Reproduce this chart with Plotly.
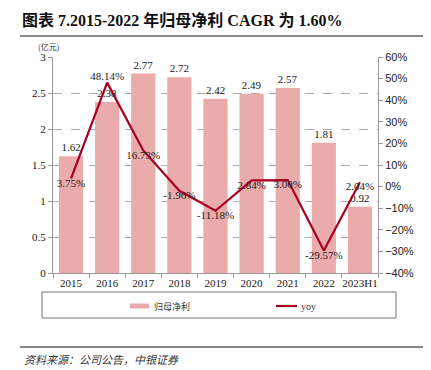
import plotly.graph_objects as go

categories = ["2015", "2016", "2017", "2018", "2019", "2020", "2021", "2022", "2023H1"]
profit = [1.62, 2.38, 2.77, 2.72, 2.42, 2.49, 2.57, 1.81, 0.92]
yoy = [3.75, 48.14, 16.73, -1.96, -11.18, 2.84, 3.00, -29.57, 2.04]
yoy_pos = ["bottom center", "top center", "bottom center", "bottom center", "bottom center",
           "bottom center", "bottom center", "bottom center", "bottom center"]

# page has an 8px body margin; lay out in page pixels and offset
OFF = 8
W, H = 431 - OFF, 370 - OFF
PL, PR, PT, PB = 53, 378, 57, 273  # plot area in page pixels
L, R, T, B = PL - OFF, W - (PR - OFF), PT - OFF, H - (PB - OFF)
pw, ph = PR - PL, PB - PT

def px(x):
    return (x - PL) / pw

def py(y):
    return (PB - y) / ph

serif = "Liberation Serif, Times New Roman, Noto Sans CJK SC"
cjk = "Noto Sans CJK SC"
bar_color = "#E9ABAB"
line_color = "#A8001E"

fig = go.Figure()
fig.add_trace(go.Bar(
    x=categories, y=profit, name="归母净利",
    marker=dict(color=bar_color, line=dict(width=0)),
    text=[f"{v:.2f}" for v in profit], textposition="outside",
    textfont=dict(family=serif, size=11, color="#222"),
    cliponaxis=False,
))
fig.add_trace(go.Scatter(
    x=categories, y=yoy, name="yoy", yaxis="y2", mode="lines+text",
    line=dict(color=line_color, width=2.2),
    text=[f"{v:.2f}%" for v in yoy], textposition=yoy_pos,
    textfont=dict(family=serif, size=11, color="#222"),
    cliponaxis=False,
))

fig.update_layout(
    width=W, height=H,
    margin=dict(l=L, r=R, t=T, b=B, autoexpand=False),
    paper_bgcolor="white", plot_bgcolor="white",
    bargap=0.33,
    showlegend=False,
    title=dict(text="<b>图表 7.2015-2022 年归母净利 CAGR 为 1.60%</b>",
               x=(22 - OFF) / W, xanchor="left", y=1 - (20 - OFF) / H, yanchor="middle",
               font=dict(family=serif, size=16, color="#111")),
    xaxis=dict(showline=True, linecolor="#999", ticks="outside", tickson="boundaries",
               ticklen=4, tickcolor="#999", tickangle=0, automargin=False,
               tickfont=dict(family=serif, size=11, color="#222")),
    yaxis=dict(range=[0, 3], dtick=0.5, showline=True, linecolor="#999",
               ticks="outside", ticklen=4, tickcolor="#999", automargin=False,
               showgrid=True, gridcolor="#AAAAAA", griddash="dash", gridwidth=1,
               zeroline=False,
               tickfont=dict(family=serif, size=11, color="#222")),
    yaxis2=dict(range=[-40, 60], dtick=10, overlaying="y", side="right",
                showline=True, linecolor="#999", ticks="outside", ticklen=4, tickcolor="#999",
                showgrid=False, zeroline=False, ticksuffix="%", automargin=False,
                tickfont=dict(family="Liberation Sans, Arial", size=11, color="#222")),
)

shapes = [
    dict(type="line", xref="paper", yref="paper", x0=px(20), x1=px(430), y0=py(36), y1=py(36),
         line=dict(color="#888", width=2)),
    dict(type="line", xref="paper", yref="paper", x0=px(20), x1=px(427), y0=py(347), y1=py(347),
         line=dict(color="#888", width=2)),
    dict(type="rect", xref="paper", yref="paper", x0=px(42), x1=px(396), y0=py(318), y1=py(292),
         line=dict(color="#777", width=1), fillcolor="rgba(0,0,0,0)"),
    # legend swatches
    dict(type="rect", xref="paper", yref="paper", x0=px(130), x1=px(149), y0=py(308.5), y1=py(303.5),
         line=dict(width=0), fillcolor=bar_color),
    dict(type="line", xref="paper", yref="paper", x0=px(276), x1=px(297), y0=py(306), y1=py(306),
         line=dict(color=line_color, width=2.2)),
]
fig.update_layout(shapes=shapes)

fig.add_annotation(text="归母净利", xref="paper", yref="paper", x=px(152), y=py(306),
                   xanchor="left", yanchor="middle", showarrow=False,
                   font=dict(family=cjk, size=9, color="#333"))
fig.add_annotation(text="yoy", xref="paper", yref="paper", x=px(299), y=py(306),
                   xanchor="left", yanchor="middle", showarrow=False,
                   font=dict(family=serif, size=10, color="#333"))
fig.add_annotation(text="(亿元)", xref="paper", yref="paper", x=px(48), y=py(46),
                   xanchor="center", yanchor="middle", showarrow=False,
                   font=dict(family=cjk, size=8, color="#333"))
fig.add_annotation(text="<i>资料来源：公司公告，中银证券</i>", xref="paper", yref="paper",
                   x=px(22), y=py(359), xanchor="left", yanchor="middle", showarrow=False,
                   font=dict(family=cjk, size=11, color="#333"))

fig.write_html("out.html")
